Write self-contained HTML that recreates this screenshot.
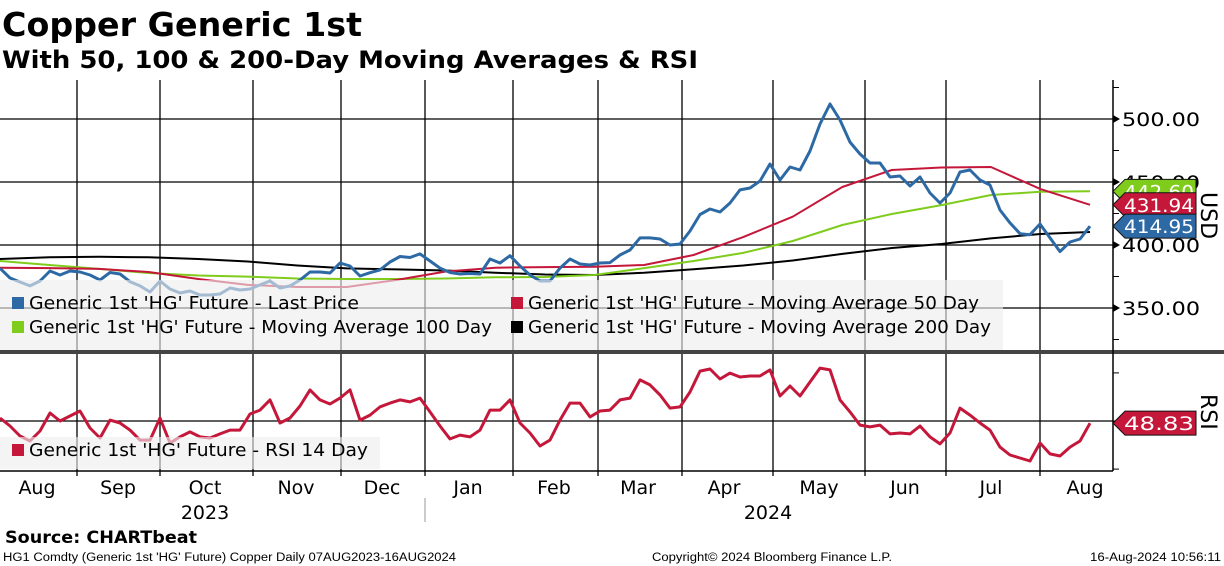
<!DOCTYPE html>
<html><head><meta charset="utf-8"><style>
html,body{margin:0;padding:0;background:#fff;}
svg{display:block;font-family:"DejaVu Sans","Liberation Sans",sans-serif;}
</style></head>
<body>
<svg id="chart" width="1224" height="566" viewBox="0 0 1224 566" xmlns="http://www.w3.org/2000/svg">
<text x="2" y="36" font-size="33" font-weight="bold" textLength="360" lengthAdjust="spacingAndGlyphs">Copper Generic 1st</text>
<text x="2" y="68" font-size="24" font-weight="bold" textLength="696" lengthAdjust="spacingAndGlyphs">With 50, 100 &amp; 200-Day Moving Averages &amp; RSI</text>
<g id="grid"></g>
<g id="series"></g>
<g id="overlay"></g>
<text x="5" y="543" font-size="17" font-weight="bold" textLength="192" lengthAdjust="spacingAndGlyphs">Source: CHARTbeat</text>
<text x="3" y="561" font-size="11.5" font-family="Liberation Sans, sans-serif" textLength="453" lengthAdjust="spacingAndGlyphs">HG1 Comdty (Generic 1st 'HG' Future) Copper  Daily 07AUG2023-16AUG2024</text>
<text x="652" y="561" font-size="11.5" font-family="Liberation Sans, sans-serif" textLength="240" lengthAdjust="spacingAndGlyphs">Copyright© 2024 Bloomberg Finance L.P.</text>
<text x="1090" y="561" font-size="11.5" font-family="Liberation Sans, sans-serif" textLength="131" lengthAdjust="spacingAndGlyphs">16-Aug-2024 10:56:11</text>
</svg>
<script>
const price=[381.5,373.8,370.6,367.5,371.4,379.4,376.2,379.4,378.6,376.2,372.2,378.2,377.0,370.9,367.5,362.7,371.4,365.1,361.9,363.5,360.3,360.3,361.1,365.9,364.3,365.1,368.3,371.4,365.9,367.5,372.2,378.6,378.6,377.8,385.7,383.3,375.4,378.0,380.2,386.5,390.9,390.1,392.9,387.3,381.7,378.2,377.0,377.4,377.0,388.9,385.7,391.5,383.3,376.2,371.4,371.4,381.7,388.9,384.9,384.1,385.7,386.0,392.1,396.0,405.6,405.6,404.8,400.0,400.8,411.1,424.2,428.6,426.2,433.3,443.7,445.2,450.8,464.3,451.6,461.9,459.5,474.6,496.0,511.9,499.2,481.7,472.2,465.1,465.1,454.0,454.8,446.8,454.0,441.3,433.3,441.3,457.9,459.5,451.6,447.6,427.8,417.5,409.0,408.2,416.7,405.6,394.8,402.4,404.8,414.95];
const ma50=[382.0,381.7,381.0,378.6,373.0,368.3,366.7,366.7,372.2,379.0,382.0,382.5,382.8,384.1,392.1,406.3,422.5,446.0,459.5,461.5,461.9,444.4,431.94];
const ma100=[387.3,384.1,381.0,377.8,375.8,374.9,373.4,373.0,373.0,373.4,374.4,374.6,376.2,381.7,387.3,393.7,403.2,415.9,424.6,431.7,439.7,442.3,442.6];
const ma200=[388.9,390.3,390.6,390.2,388.9,386.9,383.7,381.4,380.6,379.8,378.0,376.6,376.2,378.0,380.7,383.7,387.7,392.9,397.6,400.8,405.2,408.7,410.3];
const rsi=[51.6,47.3,41.9,39.2,44.6,54.3,50.0,52.7,55.4,46.2,40.8,50.5,48.9,45.1,39.7,39.7,51.6,38.1,41.4,44.1,41.4,40.8,43.0,45.1,45.1,53.8,55.9,61.4,48.9,51.6,58.1,66.8,61.4,59.2,62.4,66.8,50.5,53.2,57.6,59.7,61.4,60.3,62.4,54.9,47.3,40.3,42.4,41.4,45.1,55.9,55.9,61.4,48.9,43.5,36.5,39.7,50.5,59.7,59.7,52.2,55.4,55.9,61.4,62.4,72.2,69.5,64.1,57.0,57.6,65.7,77.0,78.1,72.7,75.9,73.8,74.3,74.3,77.6,63.5,68.9,63.5,71.1,78.6,77.6,61.4,54.9,47.8,46.8,47.8,43.0,43.5,43.0,47.3,41.4,37.6,43.5,57.0,53.2,48.9,45.1,35.9,31.6,30.0,28.4,38.1,32.2,31.1,35.9,39.2,48.83];
const priceTicks=[350,400,450,500];
const priceMinor=[325,375,425,475,525];
const rsiTicks=[24,50,76];
const months=["Aug","Sep","Oct","Nov","Dec","Jan","Feb","Mar","Apr","May","Jun","Jul","Aug"];
const monthCenters=[37,118,205,296,382,468,554,638,724,819,905,991,1085];
const monthGrid=[77,160,253,341,425,513,598,682,773,865,946,1040];
const years=["2023","2024"];

const NS="http://www.w3.org/2000/svg";
const X0=0,X1=1090,AX=1113;
const yP=v=>245-(v-400)*1.26;
const yR=v=>421-(v-50)*1.85;
const xI=(i,n)=>X0+i*(X1-X0)/(n-1);
function mk(tag,attrs,parent){const e=document.createElementNS(NS,tag);for(const k in attrs)e.setAttribute(k,attrs[k]);parent.appendChild(e);return e;}
const grid=document.getElementById('grid'),ser=document.getElementById('series'),ov=document.getElementById('overlay');

// horizontal grid
priceTicks.forEach(v=>{const l=mk('line',{x1:0,x2:AX,y1:yP(v),y2:yP(v),stroke:'#000','stroke-width':1.3},grid);

});
const rg=mk('line',{x1:0,x2:AX,y1:yR(50),y2:yR(50),stroke:'#000','stroke-width':1.3},grid);


monthGrid.forEach(x=>{const a=mk('line',{x1:x,x2:x,y1:80,y2:350,stroke:'#000','stroke-width':1.3},grid);


const b=mk('line',{x1:x,x2:x,y1:354,y2:476,stroke:'#000','stroke-width':1.3},grid);

});

function path(arr,yf,color,w,name){const d=arr.map((v,i)=>(i?'L':'M')+xI(i,arr.length).toFixed(1)+' '+yf(v).toFixed(1)).join(' ');
const p=mk('path',{d:d,fill:'none',stroke:color,'stroke-width':w,'stroke-linejoin':'round'},ser);

}
path(ma200,yP,'#000',2,'ma200-line');
path(ma100,yP,'#7fcc1c',2,'ma100-line');
path(ma50,yP,'#c4173a',2,'ma50-line');
path(price,yP,'#2d6aa5',3,'price-line');
path(rsi,yR,'#c4173a',3,'rsi-line');

// legends
function legendBox(x,y,w,h,name){const r=mk('rect',{x:x,y:y,width:w,height:h,fill:'rgba(238,238,238,0.62)'},ov);

}
legendBox(0,280,1003,70,'price-legend');
legendBox(0,437,380,32,'rsi-legend');
function entry(x,y,color,text,w,name){const s=mk('rect',{x:x,y:y-12,width:12,height:12,fill:color},ov);


const t=mk('text',{x:x+17,y:y,'font-size':18,textLength:w,lengthAdjust:'spacingAndGlyphs'},ov);t.textContent=text;

}
entry(12,309,'#2d6aa5',"Generic 1st 'HG' Future - Last Price",330,'legend-last-price');
entry(511,309,'#c4173a',"Generic 1st 'HG' Future - Moving Average 50 Day",451,'legend-ma50');
entry(12,333,'#7fcc1c',"Generic 1st 'HG' Future - Moving Average 100 Day",463,'legend-ma100');
entry(511,333,'#000',"Generic 1st 'HG' Future - Moving Average 200 Day",463,'legend-ma200');
entry(12,456,'#c4173a',"Generic 1st 'HG' Future - RSI 14 Day",339,'legend-rsi');

// frame
const sep=mk('rect',{x:0,y:350,width:1224,height:4,fill:'#444'},ov);


const ax=mk('line',{x1:AX,x2:AX,y1:80,y2:471,stroke:'#000','stroke-width':1.5},ov);


const bx=mk('line',{x1:0,x2:AX,y1:471,y2:471,stroke:'#000','stroke-width':1.5},ov);



priceTicks.forEach(v=>{const y=yP(v);
const a=mk('path',{d:`M${AX} ${y-4} L${AX+7} ${y} L${AX} ${y+4}Z`,fill:'#000'},ov);


const t=mk('text',{x:1122,y:y+7,'font-size':19,textLength:78,lengthAdjust:'spacingAndGlyphs'},ov);t.textContent=v.toFixed(2);

});
priceMinor.forEach(v=>{const y=yP(v);if(y<80)return;const l=mk('line',{x1:AX,x2:AX+6,y1:y,y2:y,stroke:'#000','stroke-width':1},ov);

});
rsiTicks.forEach(v=>{const y=yR(v);const l=mk('line',{x1:AX,x2:AX+6,y1:y,y2:y,stroke:'#000','stroke-width':1},ov);

});

function tag(v,yf,color,name){const y=yf(v);
const p=mk('path',{d:`M${AX} ${y} L${AX+12} ${y-12} L1196 ${y-12} L1196 ${y+12} L${AX+12} ${y+12}Z`,fill:color,stroke:'#111','stroke-width':1},ov);


const t=mk('text',{x:1124,y:y+7,'font-size':19,fill:'#fff',textLength:70,lengthAdjust:'spacingAndGlyphs'},ov);t.textContent=v.toFixed(2);

}
tag(ma100[ma100.length-1],yP,'#7fcc1c','ma100-value-tag');
tag(ma50[ma50.length-1],yP,'#c4173a','ma50-value-tag');
tag(price[price.length-1],yP,'#2d6aa5','price-value-tag');
tag(rsi[rsi.length-1],yR,'#c4173a','rsi-value-tag');

const u=mk('text',{x:0,y:0,'font-size':22,transform:'translate(1201,192) rotate(90)'},ov);u.textContent='USD';


const r=mk('text',{x:0,y:0,'font-size':22,transform:'translate(1201,394) rotate(90)'},ov);r.textContent='RSI';



months.forEach((m,i)=>{const t=mk('text',{x:monthCenters[i],y:494,'font-size':19,'text-anchor':'middle'},ov);t.textContent=m;

});
const ys=mk('line',{x1:425,x2:425,y1:498,y2:522,stroke:'#999','stroke-width':1},ov);


[[205,years[0]],[768,years[1]]].forEach(([x,s])=>{const t=mk('text',{x:x,y:519,'font-size':19,'text-anchor':'middle'},ov);t.textContent=s;

});
</script>
</body></html>
